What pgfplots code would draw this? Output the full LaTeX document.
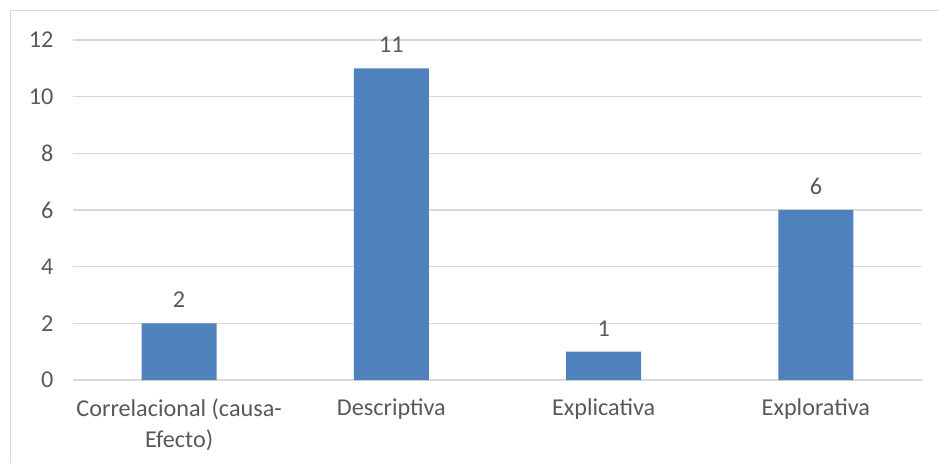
\documentclass[border=0pt]{standalone}
\usepackage{pgfplots}
\pgfplotsset{compat=1.18}
\usepackage{fontspec}
\setmainfont{Carlito}
\definecolor{barblue}{HTML}{4F81BD}
\definecolor{txtgray}{HTML}{595959}
\definecolor{gridgray}{HTML}{D9D9D9}
\begin{document}
\begin{tikzpicture}[x=1pt,y=1pt]
\path[use as bounding box] (0,0) rectangle (939,463);
\draw[gridgray, line width=1pt] (10.5,0) -- (10.5,452.5) -- (939,452.5);
\begin{axis}[
  at={(73pt,83pt)}, anchor=south west,
  scale only axis, width=849pt, height=340pt,
  xmin=-0.5, xmax=3.5, ymin=0, ymax=12,
  ytick={0,2,...,12},
  xtick=data,
  xticklabels={{Correlacional (causa-\\Efecto)},Descriptiva,Explicativa,Explorativa},
  x tick label style={align=center, text=txtgray, font=\fontsize{24.2}{31}\selectfont, yshift=-15pt},
  y tick label style={text=txtgray, font=\fontsize{24.2}{29}\selectfont, xshift=-16pt},
  /pgf/number format/assume math mode=true,
  axis line style={draw=none},
  major tick length=0pt,
  ymajorgrids, grid style={gridgray, line width=1.3pt},
  ybar, bar width=75pt,
  nodes near coords,
  nodes near coords style={text=txtgray, font=\fontsize{24.2}{29}\selectfont, yshift=12pt},
  clip=false,
]
\addplot[fill=barblue, draw=none] coordinates {(0,2) (1,11) (2,1) (3,6)};
\end{axis}
\end{tikzpicture}
\end{document}
